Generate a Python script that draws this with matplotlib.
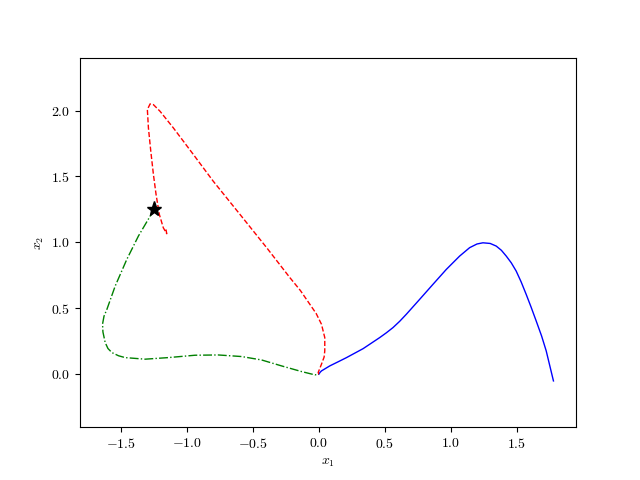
import matplotlib
matplotlib.use('Agg')
import matplotlib.pyplot as plt

plt.rcParams['font.family'] = 'serif'
plt.rcParams['font.serif'] = ['cmr10']
plt.rcParams['mathtext.fontset'] = 'cm'
plt.rcParams['axes.formatter.use_mathtext'] = True

# trajectory 1 (blue, solid)
blue_x = [0.0, 0.010, 0.020, 0.083, 0.150, 0.210, 0.336, 0.462, 0.512, 0.563, 0.614,
          0.664, 0.765, 0.866, 0.967, 1.068, 1.144, 1.200, 1.245, 1.300, 1.346,
          1.385, 1.422, 1.460, 1.497, 1.535, 1.573, 1.610, 1.649, 1.690, 1.725, 1.780]
blue_y = [0.0, 0.015, 0.025, 0.063, 0.096, 0.126, 0.194, 0.278, 0.314, 0.354, 0.402,
          0.455, 0.568, 0.682, 0.795, 0.896, 0.960, 0.988, 0.997, 0.992, 0.972,
          0.940, 0.896, 0.845, 0.783, 0.700, 0.606, 0.510, 0.404, 0.290, 0.177, -0.051]

# trajectory 2 (red, dashed)
red_x = [0.0, -0.005, 0.020, 0.040, 0.045, 0.045, 0.020, -0.020, -0.068, -0.140, -0.220,
         -0.396, -0.598, -0.801, -0.952, -1.104, -1.205, -1.255, -1.280, -1.301, -1.293,
         -1.275, -1.255, -1.235, -1.210, -1.180, -1.154, -1.162]
red_y = [0.0, 0.013, 0.076, 0.130, 0.177, 0.278, 0.379, 0.460, 0.530, 0.635, 0.733,
         0.960, 1.212, 1.464, 1.667, 1.869, 1.995, 2.045, 2.051, 2.008, 1.869,
         1.692, 1.515, 1.364, 1.212, 1.111, 1.066, 1.110]

# trajectory 3 (green, dash-dot), starts at the star
green_x = [-1.248, -1.280, -1.369, -1.457, -1.545, -1.608, -1.630, -1.641, -1.638, -1.621,
           -1.600, -1.570, -1.520, -1.470, -1.318, -1.142, -0.939, -0.763, -0.586, -0.434,
           -0.283, -0.131, -0.030, 0.0]
green_y = [1.255, 1.199, 1.048, 0.871, 0.669, 0.492, 0.440, 0.380, 0.320, 0.240,
           0.195, 0.164, 0.140, 0.126, 0.114, 0.126, 0.144, 0.146, 0.134, 0.108,
           0.063, 0.020, -0.005, 0.0]

star = (-1.25, 1.25)

fig, ax = plt.subplots(figsize=(6.4, 4.8), dpi=100)
ax.plot(blue_x, blue_y, 'b-', lw=1)
ax.plot(green_x, green_y, 'g-.', lw=1)
ax.plot(red_x, red_y, 'r--', lw=1)
ax.plot(star[0], star[1], 'k*', markersize=11)
ax.set_xlabel('$x_1$')
ax.set_ylabel('$x_2$')
ax.axis('equal')
fig.savefig('out.png')
